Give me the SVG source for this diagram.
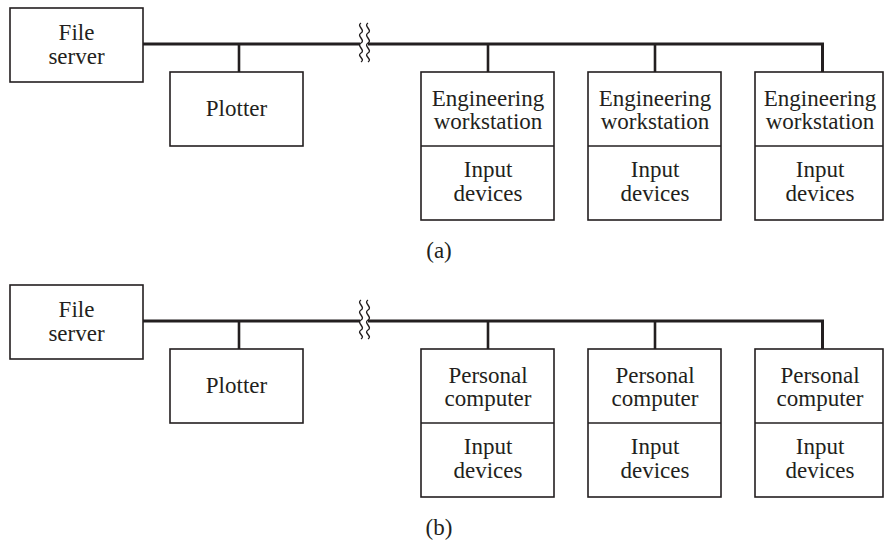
<svg xmlns="http://www.w3.org/2000/svg" width="884" height="541" viewBox="0 0 884 541">
<style>
.box{fill:#fff;stroke:#231f20;stroke-width:1.6}
.div{stroke:#231f20;stroke-width:1.6}
.bus{fill:none;stroke:#231f20;stroke-width:3}
.drop{stroke:#231f20;stroke-width:2.6}
.brk{fill:none;stroke:#231f20;stroke-width:1.4}
text{font-family:"Liberation Serif","Times New Roman",serif;font-size:23px;fill:#231f20;text-anchor:middle}
</style>
<rect width="884" height="541" fill="#fff"/>
<defs>
<path id="wave" d="M0,0 c-5,3 5,7 0,10 c-5,3 5,7 0,10 c-5,3 5,7 0,10 c-5,3 5,6 0,9"/>
</defs>

<!-- (a) -->
<g id="connectors-a">
<path class="bus" d="M143,44 H360 M368,44 H822.5 V72"/>
<line class="drop" x1="239" y1="44" x2="239" y2="72"/>
<line class="drop" x1="488" y1="44" x2="488" y2="72"/>
<line class="drop" x1="655" y1="44" x2="655" y2="72"/>
<use class="brk" href="#wave" x="361" y="23"/>
<use class="brk" href="#wave" x="368" y="23"/>
</g>
<g id="a-fileserver">
<rect class="box" x="10" y="8" width="133" height="74"/>
<text x="76.5" y="40">File</text>
<text x="76.5" y="64">server</text>
</g>
<g id="a-plotter">
<rect class="box" x="170" y="72" width="133" height="74"/>
<text x="236.5" y="116">Plotter</text>
</g>
<g id="a-ws1">
<rect class="box" x="421" y="72" width="133" height="148"/>
<line class="div" x1="421" y1="146" x2="554" y2="146"/>
<text x="488" y="106">Engineering</text>
<text x="488" y="129">workstation</text>
<text x="488" y="177">Input</text>
<text x="488" y="201">devices</text>
</g>
<g id="a-ws2">
<rect class="box" x="588" y="72" width="133" height="148"/>
<line class="div" x1="588" y1="146" x2="721" y2="146"/>
<text x="655" y="106">Engineering</text>
<text x="655" y="129">workstation</text>
<text x="655" y="177">Input</text>
<text x="655" y="201">devices</text>
</g>
<g id="a-ws3">
<rect class="box" x="755" y="72" width="128" height="148"/>
<line class="div" x1="755" y1="146" x2="883" y2="146"/>
<text x="820" y="106">Engineering</text>
<text x="820" y="129">workstation</text>
<text x="820" y="177">Input</text>
<text x="820" y="201">devices</text>
</g>
<text x="439" y="258">(a)</text>

<!-- (b) -->
<g id="connectors-b">
<path class="bus" d="M143,321 H360 M368,321 H822.5 V349"/>
<line class="drop" x1="239" y1="321" x2="239" y2="349"/>
<line class="drop" x1="488" y1="321" x2="488" y2="349"/>
<line class="drop" x1="655" y1="321" x2="655" y2="349"/>
<use class="brk" href="#wave" x="361" y="300"/>
<use class="brk" href="#wave" x="368" y="300"/>
</g>
<g id="b-fileserver">
<rect class="box" x="10" y="285" width="133" height="74"/>
<text x="76.5" y="317">File</text>
<text x="76.5" y="341">server</text>
</g>
<g id="b-plotter">
<rect class="box" x="170" y="349" width="133" height="74"/>
<text x="236.5" y="393">Plotter</text>
</g>
<g id="b-pc1">
<rect class="box" x="421" y="349" width="133" height="148"/>
<line class="div" x1="421" y1="423" x2="554" y2="423"/>
<text x="488" y="383">Personal</text>
<text x="488" y="406">computer</text>
<text x="488" y="454">Input</text>
<text x="488" y="478">devices</text>
</g>
<g id="b-pc2">
<rect class="box" x="588" y="349" width="133" height="148"/>
<line class="div" x1="588" y1="423" x2="721" y2="423"/>
<text x="655" y="383">Personal</text>
<text x="655" y="406">computer</text>
<text x="655" y="454">Input</text>
<text x="655" y="478">devices</text>
</g>
<g id="b-pc3">
<rect class="box" x="755" y="349" width="128" height="148"/>
<line class="div" x1="755" y1="423" x2="883" y2="423"/>
<text x="820" y="383">Personal</text>
<text x="820" y="406">computer</text>
<text x="820" y="454">Input</text>
<text x="820" y="478">devices</text>
</g>
<text x="439" y="535">(b)</text>
</svg>
